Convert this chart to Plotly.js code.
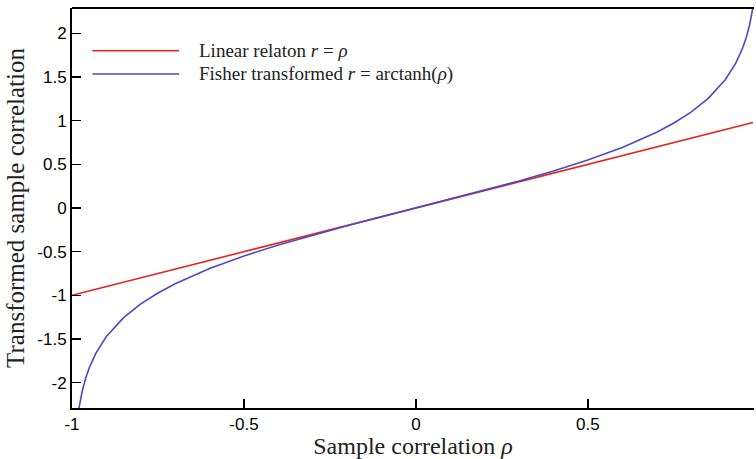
<!DOCTYPE html>
<html><head><meta charset="utf-8">
<script src="https://cdn.plot.ly/plotly-3.0.1.min.js"></script>
<style>html,body{margin:0;padding:0;background:#fff}#chart{width:756px;height:459px}</style>
</head><body><div id="chart"></div>
<script>
const rhoLinear = [-1, -0.5, 0, 0.5, 0.98];
const rLinear = [-1, -0.5, 0, 0.5, 0.98];
const rhoFisher = [-0.98, -0.97, -0.96, -0.95, -0.93, -0.9, -0.85, -0.8, -0.75, -0.7, -0.6, -0.5, -0.4, -0.3, -0.2, -0.1, 0, 0.1, 0.2, 0.3, 0.4, 0.5, 0.6, 0.7, 0.75, 0.8, 0.85, 0.9, 0.93, 0.95, 0.96, 0.97, 0.98];
const rFisher = [-2.2976, -2.0923, -1.9459, -1.8318, -1.6584, -1.4722, -1.2562, -1.0986, -0.9730, -0.8673, -0.6931, -0.5493, -0.4236, -0.3095, -0.2027, -0.1003, 0, 0.1003, 0.2027, 0.3095, 0.4236, 0.5493, 0.6931, 0.8673, 0.9730, 1.0986, 1.2562, 1.4722, 1.6584, 1.8318, 1.9459, 2.0923, 2.2976];
const seriesNames = ['Linear relaton <i>r</i> = <i>ρ</i>', 'Fisher transformed <i>r</i> = arctanh(<i>ρ</i>)'];
const seriesColors = ['#e8231b', '#4a4ac8'];
const xTickVals = [-1, -0.5, 0, 0.5];
const xTickText = ['-1', '-0.5', '0', '0.5'];
const yTickVals = [-2, -1.5, -1, -0.5, 0, 0.5, 1, 1.5, 2];
const yTickText = ['-2', '-1.5', '-1', '-0.5', '0', '0.5', '1', '1.5', '2'];

const serif = 'Liberation Serif, DejaVu Serif, serif';
const sans = 'Liberation Sans, Arial, sans-serif';

const traces = [
  {x: rhoLinear, y: rLinear, name: seriesNames[0], mode: 'lines', line: {color: seriesColors[0], width: 1.6}, showlegend: false},
  {x: rhoFisher, y: rFisher, name: seriesNames[1], mode: 'lines', line: {color: seriesColors[1], width: 1.6}, showlegend: false}
];
function axis(extra) {
  return Object.assign({
    showgrid: false, zeroline: false, showline: true, linecolor: '#000', linewidth: 2,
    tickmode: 'array',
    ticks: 'inside', ticklen: 9, tickwidth: 1.5, tickcolor: '#000',
    tickfont: {family: sans, size: 17, color: '#000'}
  }, extra);
}
// manual legend (long line samples like the reference)
const legendShapes = [], legendAnn = [];
const legY = [0.893, 0.835];
for (let i = 0; i < 2; i++) {
  legendShapes.push({type: 'line', xref: 'paper', yref: 'paper', x0: 0.03, x1: 0.157, y0: legY[i], y1: legY[i], line: {color: seriesColors[i], width: 1.6}});
  legendAnn.push({xref: 'paper', yref: 'paper', x: 0.184, y: legY[i], xanchor: 'left', yanchor: 'middle', showarrow: false,
    text: seriesNames[i], font: {family: serif, size: 19, color: '#222'}});
}
const layout = {
  width: 756, height: 459,
  margin: {l: 72, r: 2, t: 8, b: 51},
  paper_bgcolor: '#fff', plot_bgcolor: '#fff',
  showlegend: false,
  xaxis: axis({
    range: [-1, 0.983], tickvals: xTickVals, ticktext: xTickText,
    title: {text: 'Sample correlation <i>ρ</i>', font: {family: serif, size: 24, color: '#222'}, standoff: 4}
  }),
  yaxis: axis({
    range: [-2.29, 2.29], tickvals: yTickVals, ticktext: yTickText,
    title: {text: 'Transformed sample correlation', font: {family: serif, size: 25, color: '#222'}, standoff: 6}
  }),
  shapes: [{type: 'line', xref: 'paper', yref: 'paper', x0: 0, x1: 1, y0: 1, y1: 1, line: {color: '#000', width: 2}}].concat(legendShapes),
  annotations: legendAnn
};
Plotly.newPlot('chart', traces, layout, {displayModeBar: false, staticPlot: true});
</script></body></html>
